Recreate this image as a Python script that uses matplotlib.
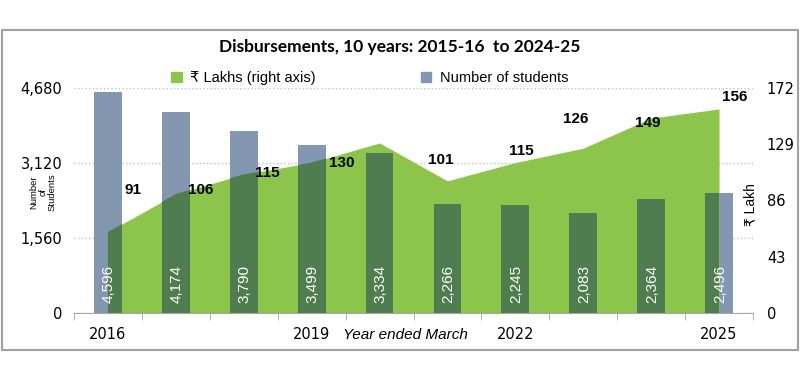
import matplotlib.pyplot as plt
import numpy as np
from matplotlib.patches import Patch, Rectangle

# data
years = ['2016', '2017', '2018', '2019', '2020', '2021', '2022', '2023', '2024', '2025']
students = [4596, 4174, 3790, 3499, 3334, 2266, 2245, 2083, 2364, 2496]
lakhs = [62, 91, 106, 115, 130, 101, 115, 126, 149, 156]
shown_years = ['2016', '2019', '2022', '2025']
left_ticks = [0, 1560, 3120, 4680]
right_ticks = [0, 43, 86, 129, 172]

# label offsets (pixels) for the lakh values, as placed in the original
label_offsets = [None, (-43, 4), (-43, -16), (-44, -10), (-38, -20),
                 (-7, 21), (6, 12), (-8, 29), (-3, -5), (16, 12)]

GREY = '#8497B0'
GREEN = '#8DC44B'
DARK = '#4F7D4F'

scale = left_ticks[-1] / right_ticks[-1]
x = np.arange(len(years))

fig = plt.figure(figsize=(8, 3.79), dpi=100)
ax = fig.add_axes([74 / 800, 66 / 379, 679 / 800, 225 / 379])

ax.bar(x, students, width=0.41, color=GREY, zorder=1)
area = ax.fill_between(x, np.array(lakhs) * scale, color=GREEN, lw=0, zorder=2)
clip = area.get_paths()[0]
dark_bars = ax.bar(x, students, width=0.41, color=DARK, zorder=3)
for rect in dark_bars:
    rect.set_clip_path(clip, ax.transData)

for i, v in enumerate(students):
    ax.annotate(f'{v:,}', (x[i], 0), xytext=(1, 10), textcoords='offset pixels',
                rotation=90, ha='center', va='bottom', color='white',
                fontsize=11, family='Liberation Sans', zorder=5)

for i, v in enumerate(lakhs):
    if label_offsets[i] is None:
        continue
    ax.annotate(str(v), (x[i], v * scale), xytext=label_offsets[i], textcoords='offset pixels',
                ha='center', va='center', fontsize=11, fontweight='bold',
                family='Liberation Sans', zorder=5)

ax.set_xlim(-0.5, len(years) - 0.5)
ax.set_ylim(0, left_ticks[-1])
ax.set_yticks(left_ticks)
ax.set_yticklabels([f'{t:,}' for t in left_ticks])
ax.tick_params(axis='y', length=0, pad=8.5, labelsize=10.5)
ax.yaxis.grid(True, linestyle=':', color='#bfbfbf', lw=1, zorder=0)
ax.set_axisbelow(True)

ax.set_xticks([years.index(y) for y in shown_years])
ax.set_xticklabels(shown_years)
ax.set_xticks(np.arange(-0.5, len(years)), minor=True)
ax.tick_params(axis='x', which='major', length=0, pad=10, labelsize=10.5)
ax.tick_params(axis='x', which='minor', length=5, color='#a6a6a6')

for s in ['left', 'right', 'top']:
    ax.spines[s].set_visible(False)
ax.spines['bottom'].set_color('#a6a6a6')

sec = ax.secondary_yaxis('right', functions=(lambda v: v / scale, lambda v: v * scale))
sec.set_yticks(right_ticks)
sec.tick_params(length=0, pad=10, labelsize=10.5)
sec.spines['right'].set_visible(False)

fig.text(405 / 800, 1 - 335 / 379, 'Year ended March', ha='center', va='center',
         fontsize=11, style='italic', family='Liberation Sans')
fig.text(43 / 800, 1 - 192 / 379, 'Number\nof\nStudents', rotation=90, ha='center',
         va='center', multialignment='center', fontsize=6.8, linespacing=1.05,
         family='Liberation Sans')
fig.text(750 / 800, 1 - 205 / 379, '₹ Lakh', rotation=90, ha='center', va='center',
         fontsize=10, family=['Liberation Sans', 'DejaVu Sans'])

fig.text(0.5, 1 - 47 / 379, 'Disbursements, 10 years: 2015-16  to 2024-25',
         ha='center', va='center', fontsize=12.5, fontweight='bold', family='Lato')

handles = [Patch(color=GREEN, label='₹ Lakhs (right axis)'),
           Patch(color=GREY, label='Number of students')]
fig.legend(handles=handles, ncol=2, loc='center', bbox_to_anchor=(370 / 800, 1 - 78 / 379),
           frameon=False, handlelength=0.7, handleheight=0.7, handletextpad=0.6,
           columnspacing=7.2, prop={'family': ['Liberation Sans', 'DejaVu Sans'], 'size': 10.5})

fig.add_artist(Rectangle((2 / 800, 1 - 350 / 379), 796 / 800, 320 / 379, transform=fig.transFigure,
                         fill=False, edgecolor='#a0a0a0', lw=1.5))

fig.savefig('out.png', dpi=100)
